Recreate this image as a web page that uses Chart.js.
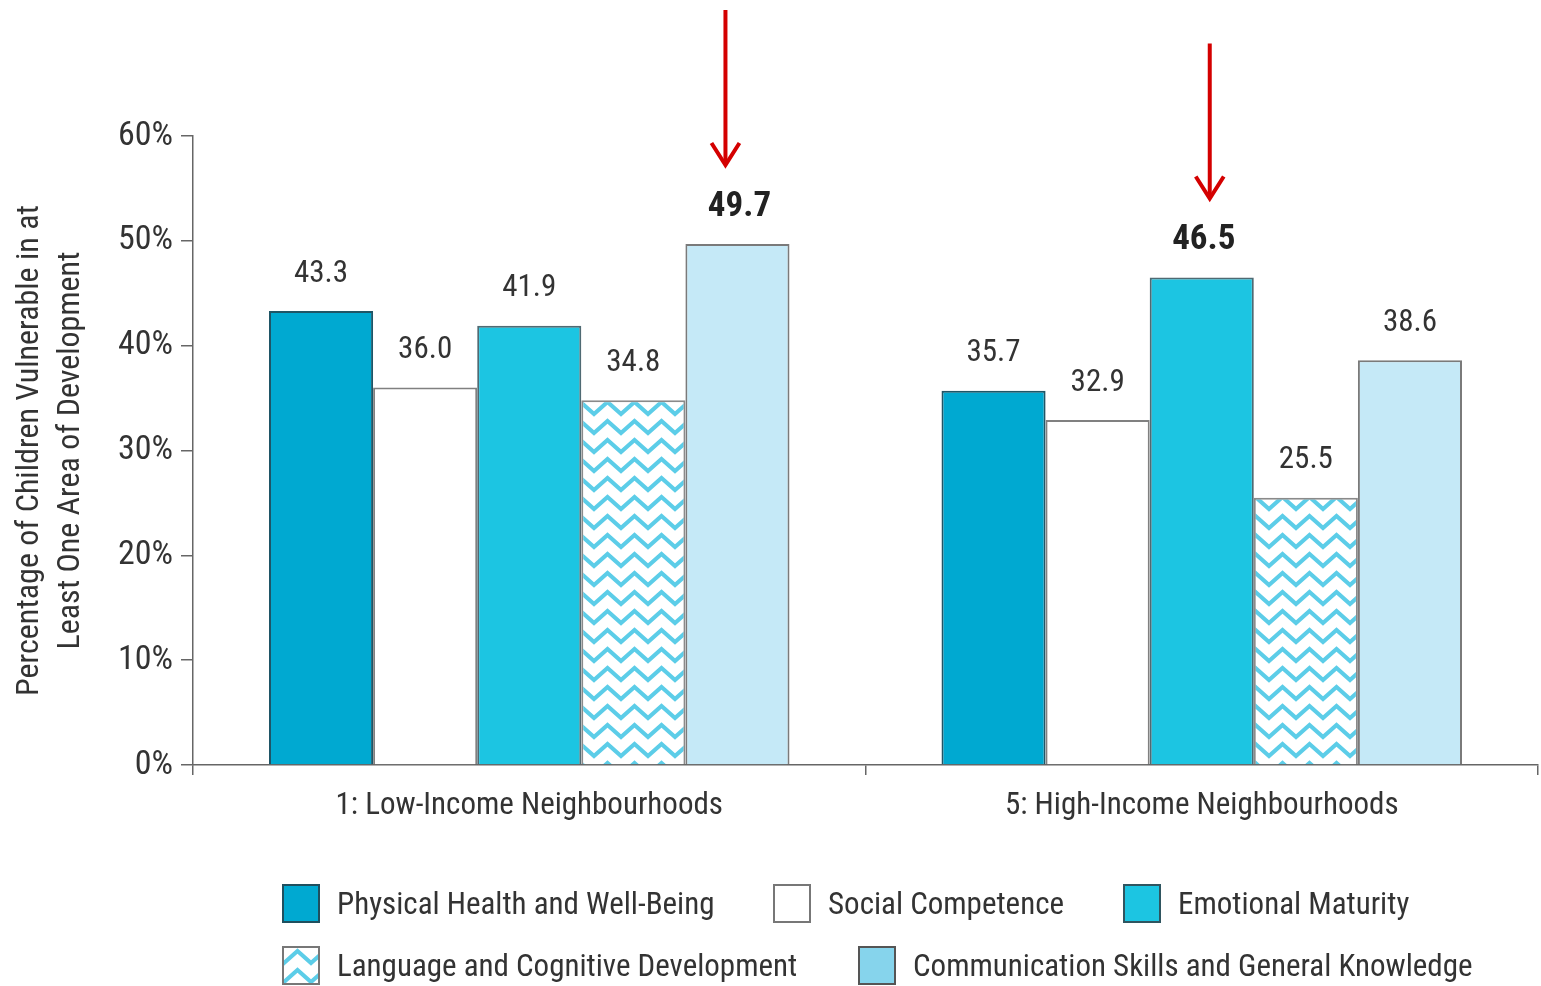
<!DOCTYPE html>
<html>
<head>
<meta charset="utf-8">
<title>Vulnerability in at Least One Area of Development</title>
<script src="https://cdn.jsdelivr.net/npm/chart.js@4.4.1/dist/chart.umd.min.js"></script>
<style>
  html, body { margin: 0; padding: 0; background: #fff; }
  #wrap { position: relative; width: 1541px; height: 986px; overflow: hidden; }
  #chart { position: absolute; left: 0; top: 0; }
  .key { position: absolute; display: flex; align-items: center; white-space: nowrap; height: 38px;
         font-family: 'Roboto Condensed', 'Liberation Sans', Arial, sans-serif; font-size: 31px; color: #333; }
  .key i { display: inline-block; width: 34px; height: 35px; margin-right: 17px;
           border: 2px solid #666; }
</style>
</head>
<body>
<div id="wrap">
  <canvas id="chart" width="1541" height="986"></canvas>
  <div id="legend"></div>
</div>
<script>
// ---- data ----
const categories = ['1: Low-Income Neighbourhoods', '5: High-Income Neighbourhoods'];
const seriesNames = [
  'Physical Health and Well-Being',
  'Social Competence',
  'Emotional Maturity',
  'Language and Cognitive Development',
  'Communication Skills and General Knowledge'
];
const physicalHealth      = [43.3, 35.7];
const socialCompetence    = [36.0, 32.9];
const emotionalMaturity   = [41.9, 46.5];
const languageCognitive   = [34.8, 25.5];
const communicationSkills = [49.7, 38.6];
const yTickValues = [0, 10, 20, 30, 40, 50, 60];
const yAxisTitle = ['Percentage of Children Vulnerable in at', 'Least One Area of Development'];
// [series index, category index] of the values called out with arrows
const highlighted = [[4, 0], [2, 1]];

// ---- zigzag fill for the language series ----
function zigzagTile() {
  const w = 27, h = 19;
  const c = document.createElement('canvas');
  c.width = w; c.height = h;
  const g = c.getContext('2d');
  g.fillStyle = '#ffffff';
  g.fillRect(0, 0, w, h);
  g.strokeStyle = '#5ccde8';
  g.lineWidth = 4.2;
  g.lineJoin = 'miter';
  for (const dy of [-h, 0, h]) {
    g.beginPath();
    g.moveTo(-w / 2, 3 + dy);
    g.lineTo(0, 15 + dy);
    g.lineTo(w / 2, 3 + dy);
    g.lineTo(w, 15 + dy);
    g.lineTo(w * 1.5, 3 + dy);
    g.stroke();
  }
  return c;
}
const tile = zigzagTile();
const ctx = document.getElementById('chart').getContext('2d');
const zigzag = ctx.createPattern(tile, 'repeat');

const seriesValues = [physicalHealth, socialCompetence, emotionalMaturity, languageCognitive, communicationSkills];
const fills   = ['#00a9d1', '#ffffff', '#1cc5e2', zigzag, '#c5e9f7'];
const borders = ['#1f5566', '#808080', '#4f6a73', '#8a8a8a', '#7a7a7a'];
const keyFills = ['#00a9d1', '#ffffff', '#1cc5e2', 'url(' + tile.toDataURL() + ')', '#86d4ec'];
const keyBorders = ['#1f4f5e', '#777', '#2f5560', '#777', '#555'];

const FONT = "'Roboto Condensed', 'Liberation Sans', Arial, sans-serif";
Chart.defaults.font.family = FONT;
Chart.defaults.color = '#333';

// value labels above each bar
const valueLabels = {
  id: 'valueLabels',
  afterDatasetsDraw(chart) {
    const c = chart.ctx;
    c.save();
    c.textAlign = 'center';
    c.textBaseline = 'middle';
    chart.data.datasets.forEach((ds, si) => {
      chart.getDatasetMeta(si).data.forEach((bar, ci) => {
        const bold = highlighted.some(h => h[0] === si && h[1] === ci);
        c.font = bold ? `bold 35px ${FONT}` : `31px ${FONT}`;
        c.fillStyle = bold ? '#222' : '#333';
        c.fillText(ds.data[ci].toFixed(1), bar.x + (bold ? 2 : 0), bar.y - 37);
      });
    });
    c.restore();
  }
};

// red arrows pointing down at the highlighted bars
const calloutArrows = {
  id: 'calloutArrows',
  afterDraw(chart, args, opts) {
    const c = chart.ctx;
    c.save();
    c.strokeStyle = opts.color;
    c.lineWidth = 4;
    c.lineCap = 'butt';
    c.lineJoin = 'miter';
    highlighted.forEach(([si, ci], k) => {
      const bar = chart.getDatasetMeta(si).data[ci];
      const x = bar.x + (opts.nudge[k] || 0);
      const tip = bar.y - opts.gap;
      c.beginPath();
      c.moveTo(x, tip - opts.length);
      c.lineTo(x, tip - 2);
      c.stroke();
      c.beginPath();
      c.moveTo(x - 14, tip - 22);
      c.lineTo(x, tip);
      c.lineTo(x + 14, tip - 22);
      c.stroke();
    });
    c.restore();
  }
};

const chart = new Chart(ctx, {
  type: 'bar',
  data: {
    labels: categories,
    datasets: seriesNames.map((name, i) => ({
      label: name,
      data: seriesValues[i],
      backgroundColor: fills[i],
      borderColor: borders[i],
      borderWidth: 2
    }))
  },
  options: {
    responsive: false,
    animation: false,
    devicePixelRatio: 1,
    layout: { padding: { top: 136, right: 3, left: 0, bottom: 0 } },
    datasets: { bar: { categoryPercentage: 0.774, barPercentage: 1 } },
    plugins: {
      legend: { display: false },
      tooltip: { enabled: false },
      calloutArrows: { color: '#d40000', gap: 79, length: 155, nudge: [-12, 8] }
    },
    scales: {
      x: {
        grid: { drawOnChartArea: false, offset: true, tickLength: 10, color: '#666', lineWidth: 1.5 },
        border: { color: '#666', width: 1.5 },
        ticks: { font: { size: 31 }, color: '#333', padding: 13 },
        afterFit(s) { s.height = 221; }
      },
      y: {
        min: 0, max: 60,
        afterBuildTicks(s) { s.ticks = yTickValues.map(v => ({ value: v })); },
        grid: { drawOnChartArea: false, tickLength: 12, color: '#666', lineWidth: 1.5 },
        border: { color: '#666', width: 1.5 },
        ticks: { font: { size: 34 }, color: '#333', padding: 8, callback: v => v + '%' },
        title: { display: true, text: yAxisTitle, color: '#333',
                 font: { size: 32, lineHeight: 1.27 }, padding: { top: 10, bottom: 0 } },
        afterFit(s) { s.width = 193; }
      }
    }
  },
  plugins: [valueLabels, calloutArrows]
});

// ---- legend ----
const keySpots = [[282, 884], [773, 884], [1123, 884], [282, 946], [858, 946]];
const legend = document.getElementById('legend');
seriesNames.forEach((name, i) => {
  const d = document.createElement('div');
  d.className = 'key';
  d.style.left = keySpots[i][0] + 'px';
  d.style.top = keySpots[i][1] + 'px';
  const sw = document.createElement('i');
  sw.style.background = keyFills[i];
  sw.style.borderColor = keyBorders[i];
  d.appendChild(sw);
  d.appendChild(document.createTextNode(name));
  legend.appendChild(d);
});
</script>
</body>
</html>
